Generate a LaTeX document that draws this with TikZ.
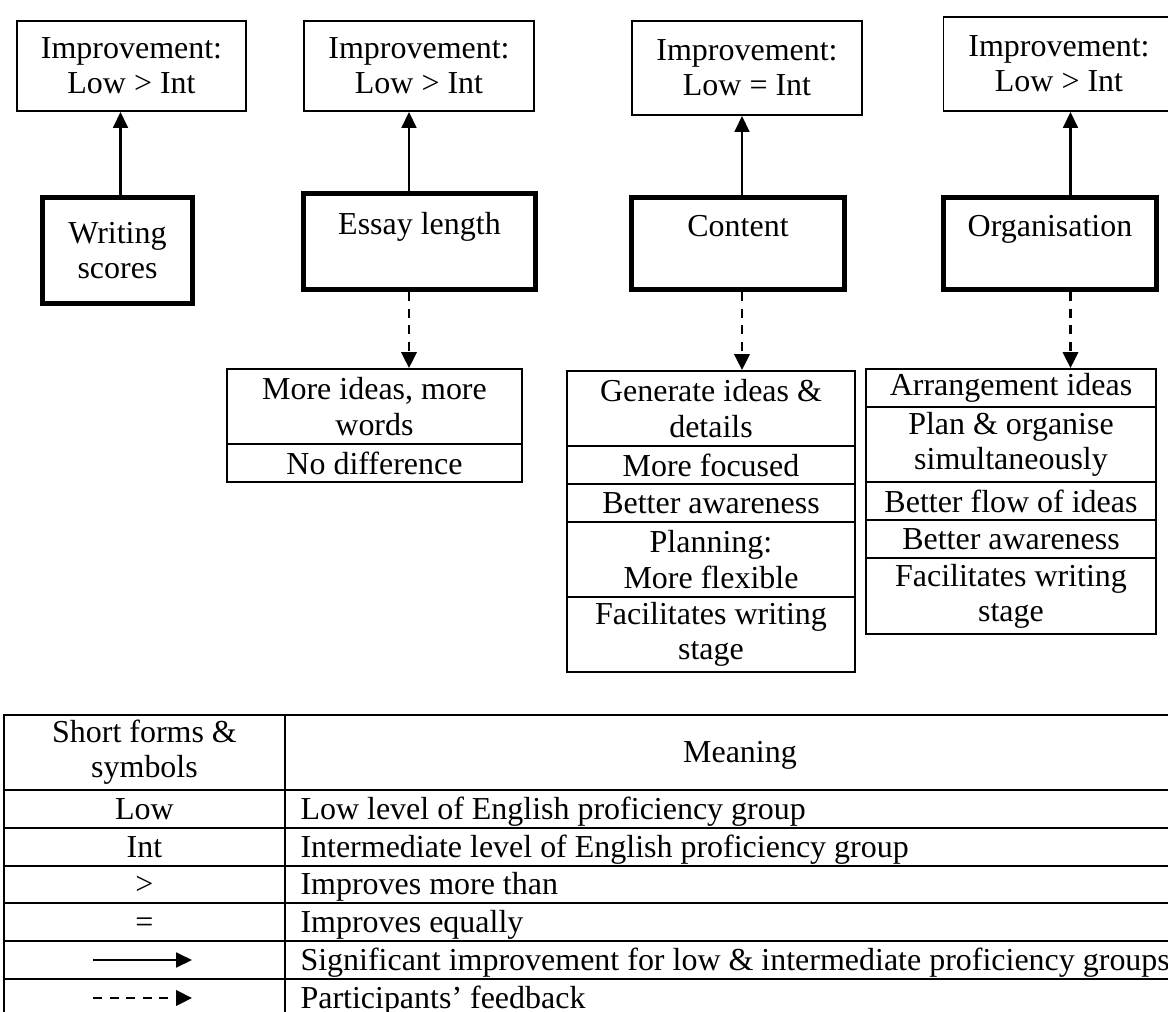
\documentclass[tikz,border=0pt]{standalone}
\usepackage{fontspec}
\setmainfont{Liberation Serif}
\usetikzlibrary{arrows.meta}
\begin{document}
\begin{tikzpicture}[x=0.38pt,y=-0.38pt,
  font=\fontsize{12.15}{13.4}\selectfont,
  topbox/.style 2 args={draw, line width=0.75pt, inner sep=0pt, align=center,
    minimum width=#1*0.38pt, minimum height=#2*0.38pt},
  keybox/.style 2 args={draw, line width=1.9pt, inner sep=0pt, align=center,
    minimum width=#1*0.38pt, minimum height=#2*0.38pt},
  cell/.style 2 args={draw, line width=0.75pt, inner sep=0pt, align=center,
    minimum width=#1*0.38pt, minimum height=#2*0.38pt},
  sig/.style={line width=0.85pt, -{Triangle[length=6pt,width=5.6pt]}},
  fb/.style={line width=0.95pt, dash pattern=on 3.4pt off 2.9pt, -{Triangle[length=6pt,width=5.8pt]}},
  tbl/.style={line width=0.75pt},
  ktext/.style={anchor=base},
  mtext/.style={anchor=base west, inner sep=0pt}]
\useasboundingbox (0,0) rectangle (1168,1012);
\fill[white] (0,0) rectangle (1168,1012);
\clip (0,0) rectangle (1168,1012);

% top result boxes
\node[topbox={229}{90}] (t1) at (131.5,66) {Improvement:\\Low > Int};
\node[topbox={230.5}{90}] (t2) at (419,66) {Improvement:\\Low > Int};
\node[topbox={230.5}{94}] (t3) at (747,68) {Improvement:\\Low = Int};
\node[topbox={231}{94}] (t4) at (1059,64) {Improvement:\\Low > Int};

% key measure boxes
\node[keybox={150}{106}] (ws) at (117.5,250.5) {Writing\\scores};
\node[keybox={232}{96}] (el) at (419.5,241.5) {Essay length\\~};
\node[keybox={212.5}{92}] (co) at (738,243.5) {Content\\~};
\node[keybox={212.5}{92}] (or) at (1050,243.5) {Organisation\\~};

% solid arrows
\draw[sig] ([xshift=1.14pt]ws.north) -- ([xshift=1.14pt]ws.north |- t1.south);
\draw[sig] ([xshift=-3.99pt]el.north) -- ([xshift=-3.99pt]el.north |- t2.south);
\draw[sig] ([xshift=1.52pt]co.north) -- ([xshift=1.52pt]co.north |- t3.south);
\draw[sig] ([xshift=7.79pt]or.north) -- ([xshift=7.79pt]or.north |- t4.south);

% feedback lists
\node[cell={295}{75}] (e1) at (374.5,406.5) {More ideas, more\\words};
\node[cell={295}{38}] (e2) at (374.5,463) {No difference};

\node[cell={288}{75}] (c1) at (711,408.5) {Generate ideas \&\\details};
\node[cell={288}{38}] (c2) at (711,465) {More focused};
\node[cell={288}{38}] (c3) at (711,503) {Better awareness};
\node[cell={288}{75}] (c4) at (711,559.5) {Planning:\\More flexible};
\node[cell={288}{75}] (c5) at (711,634.5) {Facilitates writing\\stage};

\node[cell={290}{38}] (o1) at (1011,388) {Arrangement ideas};
\node[cell={290}{75}] (o2) at (1011,444.5) {Plan \& organise\\simultaneously};
\node[cell={290}{38}] (o3) at (1011,501) {Better flow of ideas};
\node[cell={290}{38}] (o4) at (1011,539) {Better awareness};
\node[cell={290}{76}] (o5) at (1011,596) {Facilitates writing\\stage};

% dashed arrows
\draw[fb] ([xshift=-3.99pt]el.south) -- ([xshift=-3.99pt]el.south |- e1.north);
\draw[fb] ([xshift=1.52pt]co.south) -- ([xshift=1.52pt]co.south |- c1.north);
\draw[fb] ([xshift=7.79pt]or.south) -- ([xshift=7.79pt]or.south |- o1.north);

% legend table
\draw[tbl] (4,715) rectangle (1195,1017);
\draw[tbl] (285,715) -- (285,1017);
\foreach \yy in {790,828,866,903,941,979} \draw[tbl] (4,\yy) -- (1195,\yy);

\node[align=center] (h1) at (144.5,752.5) {Short forms \&\\symbols};
\node[ktext] (h2) at (740,762) {Meaning};

\node[ktext] (k1) at (144.5,819) {Low};
\node[mtext] (m1) at (300,819) {Low level of English proficiency group};
\node[ktext] (k2) at (144.5,857) {Int};
\node[mtext] (m2) at (300,857) {Intermediate level of English proficiency group};
\node[ktext] (k3) at (144.5,894) {>};
\node[mtext] (m3) at (300,894) {Improves more than};
\node[ktext] (k4) at (144.5,932) {=};
\node[mtext] (m4) at (300,932) {Improves equally};
\coordinate (s1) at (93,960);
\coordinate (s2) at (192,960);
\draw[sig] (s1) -- (s2);
\node[mtext] (m5) at (300,970) {Significant improvement for low \& intermediate proficiency groups};
\coordinate (d1) at (93,998);
\coordinate (d2) at (192,998);
\draw[fb] (d1) -- (d2);
\node[mtext] (m6) at (300,1008) {Participants’ feedback};
\end{tikzpicture}
\end{document}
